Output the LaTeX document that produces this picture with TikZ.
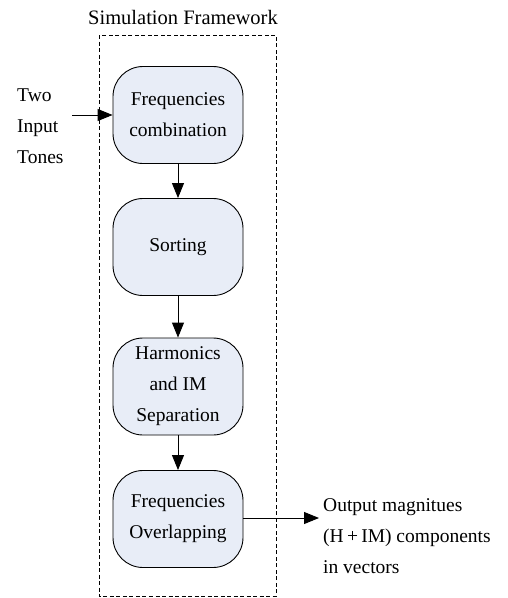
\documentclass[tikz,border=0pt]{standalone}
\usepackage{fontspec}
\setmainfont{Liberation Serif}
\usetikzlibrary{arrows.meta}
\definecolor{boxfill}{RGB}{232,237,247}
\tikzset{
    block/.style={draw, line width=0.9pt, fill=boxfill, rounded corners=30pt,
        minimum width=130pt, minimum height=97pt, align=center, inner sep=2pt},
    flow/.style={-{Triangle[length=15pt,width=12pt]}, line width=0.9pt},
    label/.style={align=left, inner sep=0pt}
}
\begin{document}
\begin{tikzpicture}[x=1pt, y=-1pt, font=\fontsize{19.5}{31}\selectfont]
    \useasboundingbox (0,0) rectangle (507,598);
    \draw[dashed, dash pattern=on 4pt off 2.5pt, line width=0.7pt] (99,35) rectangle (276,596);
    \node (title) at (183,17) {\fontsize{20.5}{24}\selectfont Simulation Framework};
    \node[block] (comb) at (178,115) {Frequencies\\combination};
    \node[block] (sort) at (178,247) {Sorting};
    \node[block] (sep) at (178,386.5) {Harmonics\\and IM\\Separation};
    \node[block] (over) at (178,519) {Frequencies\\Overlapping};
    \node[label, anchor=west] (tones) at (17,126) {Two\\Input\\Tones};
    \coordinate (in) at (72,115);
    \coordinate (out) at (319,518);
    \node[label, anchor=west] (result) at (323,536) {Output magnitues\\(H\,+\,IM) components\\in vectors};
    \draw[flow] (in) -- (comb);
    \draw[flow] (comb) -- (sort);
    \draw[flow] (sort) -- (sep);
    \draw[flow] (sep) -- (over);
    \draw[flow] (over.east |- out) -- (out);
\end{tikzpicture}
\end{document}
